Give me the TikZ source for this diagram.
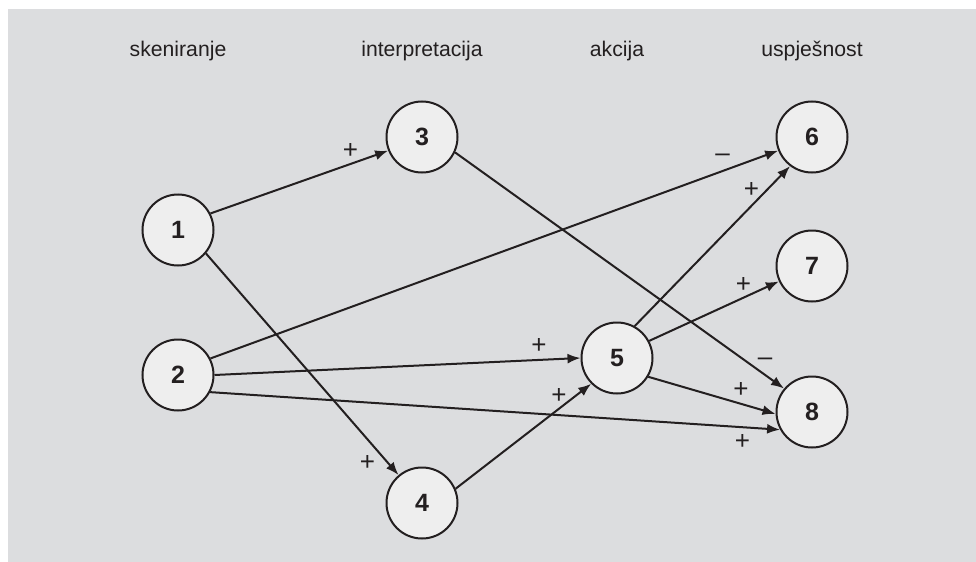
\documentclass[tikz,border=0pt]{standalone}
\usepackage{fontspec}
\setmainfont{Liberation Sans}
\usetikzlibrary{arrows.meta}
\definecolor{bggrey}{HTML}{DCDDDF}
\definecolor{nodegrey}{HTML}{EEEEEE}
\definecolor{ink}{HTML}{231F20}

\begin{document}
\begin{tikzpicture}[x=0.5pt, y=-0.5pt, >={Latex[length=6.5pt,width=5pt]},
    faktor/.style={circle, draw=ink, line width=1pt, fill=nodegrey,
      minimum size=35.5pt, inner sep=0pt, text=ink,
      font=\fontsize{12.5}{15}\selectfont\bfseries},
    faza/.style={anchor=base, text=ink, font=\fontsize{10.6}{13}\selectfont},
    znak/.style={text=ink, inner sep=0pt, font=\fontsize{13}{15}\selectfont},
    veza/.style={->, draw=ink, line width=1pt}]
  \useasboundingbox (0,0) rectangle (976,562);
  \fill[bggrey] (8,9) rectangle (976,562);

  % faze
  \node[faza] at (178,56.5) (skeniranje) {skeniranje};
  \node[faza] at (422,56.5) (interpretacija) {interpretacija};
  \node[faza] at (617,56.5) (akcija) {akcija};
  \node[faza] at (812,56.5) (uspjesnost) {uspješnost};

  % faktori
  \node[faktor] at (178,230) (f1) {1};
  \node[faktor] at (178,375) (f2) {2};
  \node[faktor] at (422,137) (f3) {3};
  \node[faktor] at (422,503) (f4) {4};
  \node[faktor] at (617,358) (f5) {5};
  \node[faktor] at (812,137) (f6) {6};
  \node[faktor] at (812,266) (f7) {7};
  \node[faktor] at (812,412) (f8) {8};

  % veze
  \draw[veza] (f1.27) -- (f3.202);
  \draw[veza] (f1.-40) -- (f4.130);
  \draw[veza] (f2.27) -- (f6.202);
  \draw[veza] (f2.0) -- (f5.180);
  \draw[veza] (f2.-28) -- (f8.209);
  \draw[veza] (f3.-25) -- (f8.140);
  \draw[veza] (f4.23) -- (f5.225);
  \draw[veza] (f5.61) -- (f6.233);
  \draw[veza] (f5.28) -- (f7.205);
  \draw[veza] (f5.-31) -- (f8.183);

  % predznaci
  \node[znak] at (350.5,151) (z13) {+};
  \node[znak] at (367.5,462.5) (z14) {+};
  \node[znak] at (722.5,158) (z26) {–};
  \node[znak] at (539,345.5) (z25) {+};
  \node[znak] at (742.5,441.5) (z28) {+};
  \node[znak] at (765,361.5) (z38) {–};
  \node[znak] at (559,395.5) (z45) {+};
  \node[znak] at (751.5,190) (z56) {+};
  \node[znak] at (743.5,285) (z57) {+};
  \node[znak] at (741,389.5) (z58) {+};
\end{tikzpicture}
\end{document}
